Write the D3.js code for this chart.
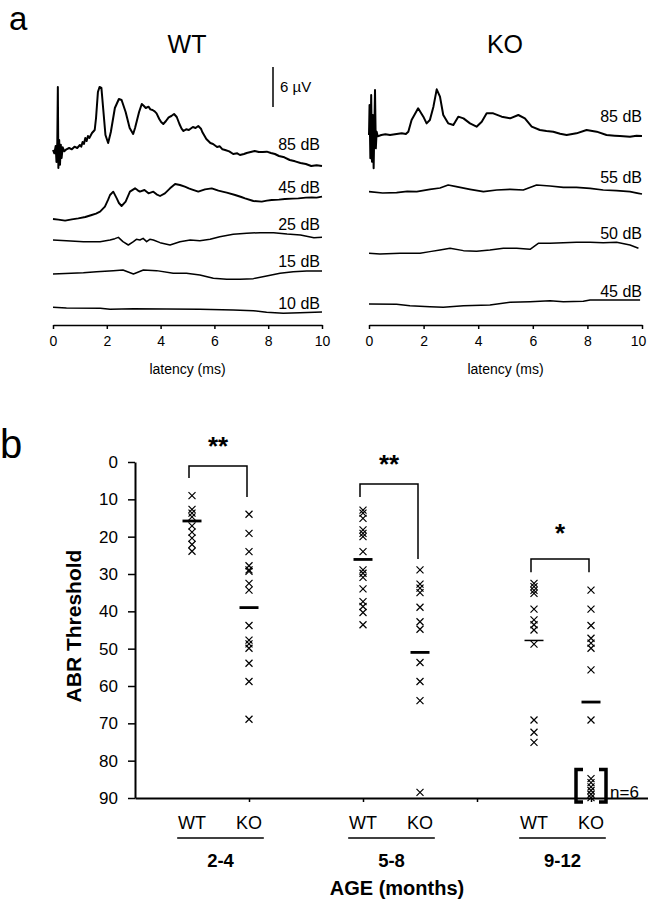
<!DOCTYPE html>
<html><head><meta charset="utf-8">
<script src="https://cdn.jsdelivr.net/npm/d3@7"></script>
<style>
body{margin:0;background:#fff}
svg{display:block}
text{font-family:Arial,"Liberation Sans",sans-serif;fill:#000}
</style>
</head><body>
<svg id="fig" width="648" height="899"></svg>
<script>
// ---------------- DATA: panel a (ABR traces, [latency ms, amplitude µV]) ----------------
const latencyTicks = [0, 2, 4, 6, 8, 10];
const wtLevels = ["85 dB", "45 dB", "25 dB", "15 dB", "10 dB"];
const koLevels = ["85 dB", "55 dB", "50 dB", "45 dB"];
const scaleBarUV = 6;

const wt85 = [[0,0],[0.05,-0.5],[0.1,0.6],[0.13,-1.8],[0.16,1.2],[0.18,9.45],[0.2,-2.7],[0.23,1.5],[0.26,-2.2],[0.29,0.8],[0.32,-1.2],[0.36,0.4],[0.42,-0.2],[0.5,0.1],[0.6,0.3],[0.7,0.1],[0.8,0.5],[0.9,0.3],[1.0,0.75],[1.05,0.5],[1.1,1.2],[1.15,0.9],[1.2,1.8],[1.25,1.35],[1.3,2.1],[1.35,1.8],[1.45,2.55],[1.55,3.0],[1.6,4.8],[1.67,8.7],[1.73,9.45],[1.8,9.3],[1.87,6.0],[1.95,2.25],[2.05,1.05],[2.15,2.7],[2.3,6.3],[2.45,7.65],[2.55,7.5],[2.7,5.7],[2.85,3.3],[2.98,2.4],[3.05,3.3],[3.2,5.7],[3.3,6.9],[3.38,6.6],[3.45,6.3],[3.55,6.5],[3.62,6.1],[3.7,6.0],[3.78,5.8],[3.85,5.5],[3.95,4.65],[4.02,4.2],[4.1,3.9],[4.2,4.35],[4.3,4.9],[4.4,5.1],[4.5,5.4],[4.6,4.95],[4.7,3.9],[4.78,3.2],[4.85,2.85],[4.95,3.1],[5.05,3.0],[5.2,3.45],[5.3,3.3],[5.4,3.6],[5.5,3.2],[5.55,2.7],[5.7,1.65],[5.85,1.05],[5.95,0.9],[6.1,0.45],[6.2,0.55],[6.3,0.1],[6.4,0],[6.55,-0.2],[6.7,-0.6],[6.85,-0.5],[6.95,-0.75],[7.1,-0.6],[7.2,-0.45],[7.35,-0.3],[7.5,-0.15],[7.65,-0.3],[7.8,-0.3],[7.95,-0.25],[8.1,-0.45],[8.25,-0.6],[8.4,-0.9],[8.6,-1.1],[8.8,-1.5],[9.0,-1.7],[9.2,-1.95],[9.4,-2.1],[9.6,-2.4],[9.8,-2.3],[10,-2.4]];
const wt45 = [[0,0],[0.2,-0.1],[0.45,-0.25],[0.7,-0.05],[0.94,0.1],[1.2,0.3],[1.44,0.6],[1.6,0.8],[1.75,1.1],[1.93,1.85],[2.05,2.9],[2.12,3.6],[2.24,4.1],[2.37,3.1],[2.45,2.4],[2.55,1.95],[2.7,2.6],[2.86,4.1],[3.05,4.6],[3.15,4.3],[3.23,4.1],[3.4,4.35],[3.55,3.85],[3.73,4.1],[3.85,3.7],[3.98,3.45],[4.16,3.85],[4.35,4.6],[4.54,5.25],[4.72,5.1],[4.9,4.85],[5.05,4.6],[5.15,4.45],[5.4,4.1],[5.65,4.45],[5.9,4.6],[6.15,4.25],[6.3,4.1],[6.46,3.95],[6.77,3.6],[7.0,3.3],[7.14,3.1],[7.45,2.7],[7.76,2.6],[7.95,2.75],[8.13,2.85],[8.4,2.9],[8.62,3.0],[8.9,3.05],[9.12,3.1],[9.4,3.2],[9.62,3.25],[9.8,3.2],[10,3.35]];
const wt25 = [[0,0],[0.5,-0.1],[1.13,-0.25],[1.75,-0.25],[2.12,0],[2.3,0.2],[2.43,0.4],[2.6,-0.25],[2.8,-0.75],[2.99,-0.25],[3.1,0.1],[3.23,0],[3.35,0.25],[3.48,-0.25],[3.6,0.1],[3.73,0],[3.98,-0.4],[4.35,-0.75],[4.72,-0.25],[5.1,0],[5.46,-0.1],[5.84,0.1],[6.2,0.5],[6.7,0.85],[7.2,1.0],[7.7,1.1],[8.2,1.1],[8.7,0.9],[9.2,0.75],[9.7,0.35],[10,0.4]];
const wt15 = [[0,-0.1],[1.13,0.1],[1.62,0.25],[2.24,0.4],[2.6,0.5],[2.99,-0.1],[3.36,0.5],[3.85,0.4],[4.47,0],[4.96,0],[5.46,-0.25],[5.96,-0.75],[6.46,-0.9],[6.95,-0.9],[7.45,-0.8],[7.94,-0.4],[8.44,0],[8.93,0.25],[9.43,0.35],[10,0.35]];
const wt10 = [[0,0],[0.5,-0.1],[1.76,-0.15],[2.12,-0.3],[2.99,-0.2],[4.22,-0.25],[5.46,-0.3],[6.7,-0.4],[7.45,-0.5],[7.94,-0.75],[8.56,-0.9],[9.18,-0.8],[10,-0.7]];

const ko85 = [[0,0],[0.02,4.5],[0.05,-3.5],[0.08,6.0],[0.11,-4.0],[0.14,3.0],[0.17,-5.0],[0.2,2.0],[0.22,6.75],[0.25,-2.0],[0.28,0.5],[0.32,-0.2],[0.45,0],[0.6,0.1],[0.77,0],[0.95,0.1],[1.2,0.25],[1.35,0.15],[1.44,0.5],[1.56,2.25],[1.8,4.0],[1.99,2.75],[2.11,1.75],[2.23,2.25],[2.36,4.25],[2.48,6.85],[2.6,5.75],[2.72,3.0],[2.9,1.75],[3.09,1.5],[3.27,2.75],[3.46,2.5],[3.7,1.75],[3.94,1.25],[4.13,2.0],[4.31,3.25],[4.55,3.25],[4.86,2.75],[5.17,2.5],[5.47,3.0],[5.71,2.5],[5.96,1.25],[6.26,0.75],[6.5,0.6],[6.75,0.5],[7.0,0.2],[7.24,0],[7.6,0.25],[7.97,0.75],[8.34,0.5],[8.7,0],[9.0,-0.1],[9.19,-0.15],[9.56,-0.25],[9.8,-0.1],[10,-0.15]];
const ko55 = [[0,0.05],[0.5,-0.15],[1.01,-0.1],[1.4,0.1],[1.75,0.05],[2.23,0.4],[2.6,0.6],[2.9,1.05],[3.2,0.8],[3.7,0.4],[4.19,0.05],[4.68,0.3],[5.17,0.4],[5.65,0.3],[6.14,1.05],[6.63,0.9],[7.12,0.7],[7.6,0.7],[8.1,0.55],[8.58,0.3],[9.07,0.2],[9.56,0.05],[9.87,-0.2],[10,-0.3]];
const ko50 = [[0,0],[0.4,-0.1],[1.14,0],[1.87,0],[2.23,0.25],[2.6,0.5],[2.97,0.75],[3.46,0.4],[3.94,0.3],[4.43,0.5],[4.92,0.75],[5.41,0.75],[5.9,0.6],[6.2,1.5],[6.63,1.5],[7.12,1.6],[7.6,1.65],[8.1,1.65],[8.58,1.6],[9.07,1.65],[9.56,1.25],[9.87,0.75]];
const ko45 = [[0,0],[1.01,-0.05],[1.5,-0.25],[2.23,-0.4],[2.72,-0.5],[3.46,-0.25],[4.43,-0.15],[5.17,0.25],[5.9,0.35],[6.63,0.5],[7.12,0.35],[7.85,0.4],[8.1,0.6],[8.83,0.6],[9.93,0.6]];

// ---------------- DATA: panel b (ABR thresholds) ----------------
const ageGroups = ["2-4", "5-8", "9-12"];
const genotypes = ["WT", "KO"];
const thresholdTicks = [0, 10, 20, 30, 40, 50, 60, 70, 80, 90];
const wt24 = [9, 12.7, 13.7, 14.7, 17.1, 18.8, 20.4, 22.1, 23.9];
const ko24 = [14, 19.1, 24, 27.8, 28.9, 29.3, 32.5, 34.3, 43.8, 47.7, 48.7, 49.9, 53.9, 58.8, 68.9];
const wt58 = [12.9, 13.7, 15.1, 18.2, 19.1, 20.0, 24.0, 28.9, 29.8, 30.9, 34.0, 37.4, 38.7, 40.3, 43.6];
const ko58 = [28.9, 32.7, 33.8, 35.0, 38.9, 42.8, 44.8, 53.7, 58.8, 63.9, 88.5];
const wt912 = [32.5, 33.4, 34.4, 35.2, 39.4, 42.3, 43.6, 45.0, 48.8, 69.1, 72.4, 75.1];
const ko912 = [34.3, 39.4, 43.8, 47.2, 48.5, 49.9, 55.7, 69.1];
const ko912NoResponse = [84.8, 85.9, 87.0, 88.0, 89.0, 89.9];
const groupMeans = [15.8, 39.0, 26.1, 51.0, 47.8, 64.3];
const significance = ["**", "**", "*"];
// [WT leg end, bracket level, KO leg end] in threshold units
const bracketLevels = [[4.3, 1.1, 9.4], [9.4, 5.9, 26.0], [29.5, 26.0, 29.5]];
const noResponseLabel = "n=6";

// ---------------- DRAWING ----------------
const svg = d3.select("#fig");
const font = 'Arial,"Liberation Sans",sans-serif';

// panel letters
svg.append("text").attr("x", 9).attr("y", 30).attr("font-size", 33).text("a");
svg.append("text").attr("x", 0).attr("y", 458).attr("font-size", 40).text("b");

// ---- panel a ----
const pxPerUV = 40 / 6;
const panels = [
  {title: "WT", x0: 53, x1: 322, titleX: 187, levels: wtLevels,
   traces: [wt85, wt45, wt25, wt15, wt10], base: [150, 219, 240, 273.3, 307.3],
   labelY: [150, 193, 230, 267, 309], labelX: 320, widths: [2, 1.9, 1.5, 1.5, 1.5]},
  {title: "KO", x0: 369, x1: 642, titleX: 505, levels: koLevels,
   traces: [ko85, ko55, ko50, ko45], base: [135, 192, 253.3, 304],
   labelY: [122, 183, 239, 297], labelX: 642, widths: [2, 1.7, 1.5, 1.5]}
];
const axisY = 325;
panels.forEach((p, pi) => {
  const x = d3.scaleLinear().domain([0, 10]).range([p.x0, p.x1]);
  svg.append("text").attr("x", p.titleX).attr("y", 53).attr("text-anchor", "middle")
    .attr("font-size", 25).text(p.title);
  p.traces.forEach((tr, i) => {
    const y = d3.scaleLinear().domain([0, 6]).range([p.base[i], p.base[i] - 6 * pxPerUV]);
    const line = d3.line().x(d => x(d[0])).y(d => y(d[1]));
    svg.append("path").attr("d", line(tr)).attr("fill", "none").attr("stroke", "#000")
      .attr("stroke-width", p.widths[i]).attr("stroke-linejoin", "round");
    svg.append("text").attr("x", p.labelX).attr("y", p.labelY[i]).attr("text-anchor", "end")
      .attr("font-size", 16).text(p.levels[i]);
  });
  const ax = svg.append("g").attr("transform", `translate(0,${axisY})`)
    .call(d3.axisBottom(x).tickValues(latencyTicks).tickSize(4).tickSizeOuter(0).tickPadding(7));
  ax.attr("font-family", font).attr("font-size", 14);
  ax.select(".domain").attr("stroke-width", 1.5);
  ax.selectAll(".tick line").attr("stroke-width", 1.5);
  if (pi === 1) ax.selectAll(".tick text").filter(d => d === 10).attr("dx", -4);
  svg.append("text").attr("x", (p.x0 + p.x1) / 2).attr("y", 374).attr("text-anchor", "middle")
    .attr("font-size", 14).text("latency (ms)");
});
// scale bar 6 µV
{
  const sb = d3.scaleLinear().domain([0, 6]).range([107, 107 - 6 * pxPerUV]);
  svg.append("line").attr("x1", 273).attr("x2", 273).attr("y1", sb(0)).attr("y2", sb(scaleBarUV))
    .attr("stroke", "#000").attr("stroke-width", 1.5);
  svg.append("text").attr("x", 280).attr("y", 92).attr("font-size", 15).text(scaleBarUV + " \u00b5V");
}

// ---- panel b ----
const y = d3.scaleLinear().domain([0, 90]).range([462, 798]);
const x = d3.scaleLinear().domain([0, 9]).range([135, 648]);
const colPos = (g, k) => 1 + 3 * g + k;   // WT / KO column positions along x
const groupData = [[wt24, ko24], [wt58, ko58], [wt912, ko912.concat(ko912NoResponse)]];

const yAx = svg.append("g").attr("transform", "translate(135,0)")
  .call(d3.axisLeft(y).tickValues(thresholdTicks).tickSize(7).tickSizeOuter(0).tickPadding(10));
yAx.attr("font-family", font).attr("font-size", 17);
yAx.select(".domain").attr("stroke-width", 2);
yAx.selectAll(".tick line").attr("stroke-width", 1.5);

const xAx = svg.append("g").attr("transform", `translate(0,${y(90)})`)
  .call(d3.axisBottom(x).tickValues([2, 4, 6, 8]).tickSize(4).tickSizeOuter(0).tickFormat(""));
xAx.select(".domain").attr("stroke-width", 2);
xAx.selectAll(".tick line").attr("stroke-width", 1.5);

svg.append("text").attr("transform", "translate(81,626) rotate(-90)").attr("text-anchor", "middle")
  .attr("font-size", 21).attr("font-weight", "bold").text("ABR Threshold");

const cross = "M-3.5,-3.5L3.5,3.5M-3.5,3.5L3.5,-3.5";
groupData.forEach((pair, g) => {
  pair.forEach((vals, k) => {
    const cx = x(colPos(g, k));
    svg.append("g").selectAll("path").data(vals).join("path")
      .attr("d", cross).attr("transform", d => `translate(${cx},${y(d)})`)
      .attr("fill", "none").attr("stroke", "#000").attr("stroke-width", 1.2);
    // mean bar
    const m = groupMeans[g * 2 + k];
    svg.append("line").attr("x1", cx - 9.5).attr("x2", cx + 9.5).attr("y1", y(m)).attr("y2", y(m))
      .attr("stroke", "#000").attr("stroke-width", (g === 2 && k === 0) ? 1.5 : 2.8);
    // genotype label
    svg.append("text").attr("x", cx).attr("y", 829).attr("text-anchor", "middle")
      .attr("font-size", 18).text(genotypes[k]);
  });
  // underline and age label
  const cg = x(colPos(g, 0) + 0.5);
  svg.append("line").attr("x1", x(colPos(g, 0) - 0.26)).attr("x2", x(colPos(g, 1) + 0.26))
    .attr("y1", 838).attr("y2", 838).attr("stroke", "#000").attr("stroke-width", 1.5);
  svg.append("text").attr("x", cg).attr("y", 867).attr("text-anchor", "middle")
    .attr("font-size", 18.5).attr("font-weight", "bold").text(ageGroups[g]);
  // significance bracket
  const b = bracketLevels[g];
  const xa = x(colPos(g, 0)) - 3, xb = x(colPos(g, 1)) - 2;
  svg.append("path").attr("d", `M${xa},${y(b[0])}V${y(b[1])}H${xb}V${y(b[2])}`)
    .attr("fill", "none").attr("stroke", "#000").attr("stroke-width", 1.5);
  svg.append("text").attr("x", (xa + xb) / 2).attr("y", y(b[1]) - 11 - (g === 2 ? 6 : 0))
    .attr("text-anchor", "middle").attr("font-size", 26).attr("font-weight", "bold")
    .text(significance[g]);
});
svg.append("text").attr("x", 397).attr("y", 895).attr("text-anchor", "middle")
  .attr("font-size", 20).attr("font-weight", "bold").text("AGE (months)");

// brackets around no-response cluster
{
  const cx = x(colPos(2, 1));
  const top = y(d3.min(ko912NoResponse)) - 9, bot = y(90) + 4;
  svg.append("path").attr("d", `M${cx - 8},${top}H${cx - 15}V${bot}H${cx - 8}`)
    .attr("fill", "none").attr("stroke", "#000").attr("stroke-width", 3.5);
  svg.append("path").attr("d", `M${cx + 8},${top}H${cx + 15}V${bot}H${cx + 8}`)
    .attr("fill", "none").attr("stroke", "#000").attr("stroke-width", 3.5);
  svg.append("text").attr("x", cx + 19).attr("y", y(90)).attr("font-size", 17).text(noResponseLabel);
}
</script>
</body></html>
